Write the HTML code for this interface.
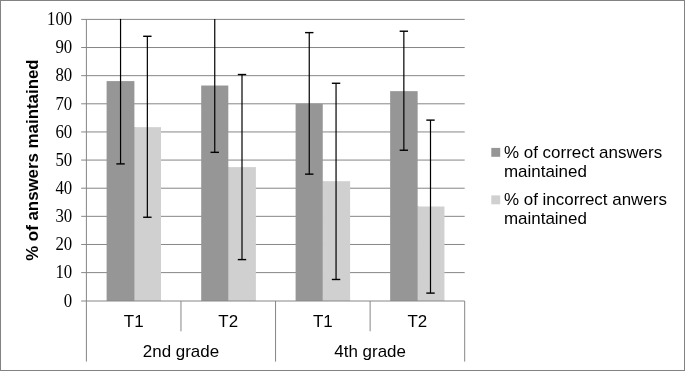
<!DOCTYPE html><html><head><meta charset="utf-8"><title>chart</title><style>html,body{margin:0;padding:0;background:#fff}svg{display:block}text{font-family:"Liberation Sans",sans-serif;fill:#000}.s{font-family:"Liberation Serif",serif}</style></head><body>
<svg width="685" height="371" viewBox="0 0 685 371">
<rect x="0" y="0" width="685" height="371" fill="#fff"/>
<rect x="0.5" y="0.5" width="684" height="370" fill="none" stroke="#828282" stroke-width="1"/>
<line x1="81.20" y1="272.62" x2="464.70" y2="272.62" stroke="#868686" stroke-width="1"/>
<line x1="81.20" y1="244.48" x2="464.70" y2="244.48" stroke="#868686" stroke-width="1"/>
<line x1="81.20" y1="216.34" x2="464.70" y2="216.34" stroke="#868686" stroke-width="1"/>
<line x1="81.20" y1="188.21" x2="464.70" y2="188.21" stroke="#868686" stroke-width="1"/>
<line x1="81.20" y1="160.07" x2="464.70" y2="160.07" stroke="#868686" stroke-width="1"/>
<line x1="81.20" y1="131.94" x2="464.70" y2="131.94" stroke="#868686" stroke-width="1"/>
<line x1="81.20" y1="103.81" x2="464.70" y2="103.81" stroke="#868686" stroke-width="1"/>
<line x1="81.20" y1="75.67" x2="464.70" y2="75.67" stroke="#868686" stroke-width="1"/>
<line x1="81.20" y1="47.53" x2="464.70" y2="47.53" stroke="#868686" stroke-width="1"/>
<line x1="81.20" y1="19.40" x2="464.70" y2="19.40" stroke="#868686" stroke-width="1"/>
<rect x="106.60" y="81.10" width="27.80" height="219.90" fill="#969696"/>
<rect x="133.90" y="127.16" width="1.5" height="173.84" fill="#969696"/>
<rect x="134.40" y="127.16" width="26.60" height="173.84" fill="#d0d0d0"/>
<rect x="201.20" y="85.52" width="27.10" height="215.48" fill="#969696"/>
<rect x="227.80" y="167.11" width="1.5" height="133.89" fill="#969696"/>
<rect x="228.30" y="167.11" width="27.60" height="133.89" fill="#d0d0d0"/>
<rect x="295.60" y="103.81" width="27.15" height="197.19" fill="#969696"/>
<rect x="322.25" y="181.18" width="1.5" height="119.82" fill="#969696"/>
<rect x="322.75" y="181.18" width="27.35" height="119.82" fill="#d0d0d0"/>
<rect x="390.15" y="91.14" width="27.50" height="209.86" fill="#969696"/>
<rect x="417.15" y="206.50" width="1.5" height="94.50" fill="#969696"/>
<rect x="417.65" y="206.50" width="26.80" height="94.50" fill="#d0d0d0"/>
<line x1="81.20" y1="301.00" x2="464.70" y2="301.00" stroke="#868686" stroke-width="1"/>
<line x1="86.40" y1="19.40" x2="86.40" y2="361.6" stroke="#868686" stroke-width="1"/>
<line x1="180.97" y1="301.00" x2="180.97" y2="331.3" stroke="#868686" stroke-width="1"/>
<line x1="275.55" y1="301.00" x2="275.55" y2="361.6" stroke="#868686" stroke-width="1"/>
<line x1="370.12" y1="301.00" x2="370.12" y2="331.3" stroke="#868686" stroke-width="1"/>
<line x1="464.70" y1="301.00" x2="464.70" y2="361.6" stroke="#868686" stroke-width="1"/>
<line x1="120.55" y1="18.90" x2="120.55" y2="163.90" stroke="#000" stroke-width="1.2"/>
<line x1="116.35" y1="163.90" x2="124.75" y2="163.90" stroke="#000" stroke-width="1.4"/>
<line x1="147.35" y1="36.28" x2="147.35" y2="217.25" stroke="#000" stroke-width="1.2"/>
<line x1="143.15" y1="217.25" x2="151.55" y2="217.25" stroke="#000" stroke-width="1.4"/>
<line x1="143.15" y1="36.28" x2="151.55" y2="36.28" stroke="#000" stroke-width="1.4"/>
<line x1="214.75" y1="18.90" x2="214.75" y2="152.34" stroke="#000" stroke-width="1.2"/>
<line x1="210.55" y1="152.34" x2="218.95" y2="152.34" stroke="#000" stroke-width="1.4"/>
<line x1="242.00" y1="74.54" x2="242.00" y2="259.59" stroke="#000" stroke-width="1.2"/>
<line x1="237.80" y1="259.59" x2="246.20" y2="259.59" stroke="#000" stroke-width="1.4"/>
<line x1="237.80" y1="74.54" x2="246.20" y2="74.54" stroke="#000" stroke-width="1.4"/>
<line x1="309.25" y1="32.62" x2="309.25" y2="174.14" stroke="#000" stroke-width="1.2"/>
<line x1="305.05" y1="174.14" x2="313.45" y2="174.14" stroke="#000" stroke-width="1.4"/>
<line x1="305.05" y1="32.62" x2="313.45" y2="32.62" stroke="#000" stroke-width="1.4"/>
<line x1="336.05" y1="83.27" x2="336.05" y2="279.48" stroke="#000" stroke-width="1.2"/>
<line x1="331.85" y1="279.48" x2="340.25" y2="279.48" stroke="#000" stroke-width="1.4"/>
<line x1="331.85" y1="83.27" x2="340.25" y2="83.27" stroke="#000" stroke-width="1.4"/>
<line x1="403.85" y1="31.22" x2="403.85" y2="150.23" stroke="#000" stroke-width="1.2"/>
<line x1="399.65" y1="150.23" x2="408.05" y2="150.23" stroke="#000" stroke-width="1.4"/>
<line x1="399.65" y1="31.22" x2="408.05" y2="31.22" stroke="#000" stroke-width="1.4"/>
<line x1="430.50" y1="120.12" x2="430.50" y2="293.10" stroke="#000" stroke-width="1.2"/>
<line x1="426.30" y1="293.10" x2="434.70" y2="293.10" stroke="#000" stroke-width="1.4"/>
<line x1="426.30" y1="120.12" x2="434.70" y2="120.12" stroke="#000" stroke-width="1.4"/>
<text class="s" transform="translate(72.2 306.55) scale(1 1.06)" font-size="16.8" text-anchor="end">0</text>
<text class="s" transform="translate(72.2 278.42) scale(1 1.06)" font-size="16.8" text-anchor="end">10</text>
<text class="s" transform="translate(72.2 250.28) scale(1 1.06)" font-size="16.8" text-anchor="end">20</text>
<text class="s" transform="translate(72.2 222.15) scale(1 1.06)" font-size="16.8" text-anchor="end">30</text>
<text class="s" transform="translate(72.2 194.01) scale(1 1.06)" font-size="16.8" text-anchor="end">40</text>
<text class="s" transform="translate(72.2 165.88) scale(1 1.06)" font-size="16.8" text-anchor="end">50</text>
<text class="s" transform="translate(72.2 137.74) scale(1 1.06)" font-size="16.8" text-anchor="end">60</text>
<text class="s" transform="translate(72.2 109.61) scale(1 1.06)" font-size="16.8" text-anchor="end">70</text>
<text class="s" transform="translate(72.2 81.47) scale(1 1.06)" font-size="16.8" text-anchor="end">80</text>
<text class="s" transform="translate(72.2 53.33) scale(1 1.06)" font-size="16.8" text-anchor="end">90</text>
<text class="s" transform="translate(72.2 25.20) scale(1 1.06)" font-size="16.8" text-anchor="end">100</text>
<text transform="translate(38.4 160.1) rotate(-90)" font-size="16.88" font-weight="bold" text-anchor="middle">% of answers maintained</text>
<text x="133.69" y="326.6" font-size="16.95" text-anchor="middle">T1</text>
<text x="228.26" y="326.6" font-size="16.95" text-anchor="middle">T2</text>
<text x="322.84" y="326.6" font-size="16.95" text-anchor="middle">T1</text>
<text x="417.41" y="326.6" font-size="16.95" text-anchor="middle">T2</text>
<text x="180.97" y="356.8" font-size="16.95" text-anchor="middle">2nd grade</text>
<text x="370.12" y="356.8" font-size="16.95" text-anchor="middle">4th grade</text>
<rect x="491.3" y="147.9" width="8.9" height="8.9" fill="#969696"/>
<rect x="491.3" y="195.4" width="8.9" height="8.9" fill="#d0d0d0"/>
<text x="504" y="157.8" font-size="16.95">% of correct answers</text>
<text x="504" y="176.8" font-size="16.95">maintained</text>
<text x="504" y="205" font-size="16.95">% of incorrect anwers</text>
<text x="504" y="224" font-size="16.95">maintained</text>
</svg></body></html>
